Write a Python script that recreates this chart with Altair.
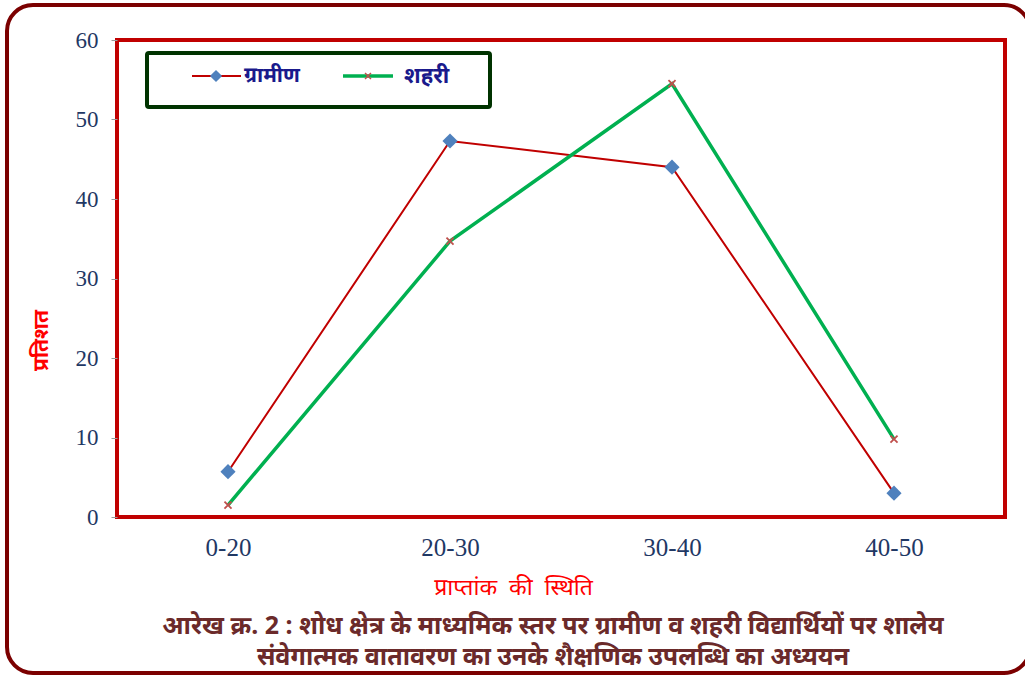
import altair as alt
import pandas as pd

categories = ["0-20", "20-30", "30-40", "40-50"]
gramin = [5.7, 47.3, 44.0, 3.0]
shahri = [1.5, 34.7, 54.5, 9.8]
series_names = ["ग्रामीण", "शहरी"]
x_title = "प्राप्तांक\u00a0\u00a0की\u00a0\u00a0स्थिति"
y_title = "प्रतिशत"
caption = [
    "आरेख क्र. 2 : शोध क्षेत्र के माध्यमिक स्तर पर ग्रामीण व शहरी विद्यार्थियों पर शालेय",
    "संवेगात्मक वातावरण का उनके शैक्षणिक उपलब्धि का अध्ययन",
]

df = pd.DataFrame({
    "cat": categories * 2,
    "value": gramin + shahri,
    "series": [series_names[0]] * 4 + [series_names[1]] * 4,
})

W, H = 888, 477
LEFT, TOP = 117, 40

xenc = alt.X("cat:N", sort=categories,
             scale=alt.Scale(type="point", domain=categories, padding=0.5),
             axis=alt.Axis(title=x_title, labelAngle=0, labelFont="Liberation Serif",
                           labelFontSize=25, labelColor="#1f3864", labelPadding=18,
                           ticks=False, domain=False,
                           titleFont="Noto Sans", titleFontSize=23, titleFontWeight="normal",
                           titleColor="#ff0000", titleX=396, titleY=70,
                           titleBaseline="middle", titleAlign="center"))
yenc = alt.Y("value:Q", scale=alt.Scale(domain=[0, 60]),
             axis=alt.Axis(title=y_title, values=[0, 10, 20, 30, 40, 50, 60],
                           labelFont="Liberation Serif", labelFontSize=23,
                           labelColor="#1f3864", labelPadding=13,
                           tickSize=6, tickColor="#999999", domain=False, grid=False,
                           titleFont="Noto Sans", titleFontSize=21, titleFontWeight="bold",
                           titleColor="#ff0000", titleAngle=270, titleX=-76, titleY=300,
                           titleBaseline="middle", titleAlign="center"))

base = alt.Chart(df)

line_g = base.transform_filter(alt.datum.series == series_names[0]).mark_line(
    color="#c00000", strokeWidth=2).encode(x=xenc, y=yenc)
line_s = base.transform_filter(alt.datum.series == series_names[1]).mark_line(
    color="#00b050", strokeWidth=3.5).encode(x=xenc, y=yenc)
pts_g = base.transform_filter(alt.datum.series == series_names[0]).mark_point(
    shape="diamond", filled=True, color="#4f81bd", size=230, opacity=1).encode(x=xenc, y=yenc)
pts_s = base.transform_filter(alt.datum.series == series_names[1]).mark_point(
    shape="M-1,-1L1,1M-1,1L1,-1", filled=False, color="#c0504d", size=50,
    strokeWidth=1.8, opacity=1).encode(x=xenc, y=yenc)

# Outer rounded frame
one = pd.DataFrame({"a": [0]})
frame = alt.Chart(one).mark_rect(
    fill=None, stroke="#7b0000", strokeWidth=4, cornerRadius=26, clip=False
).encode(x=alt.value(7 - LEFT), x2=alt.value(1030 - LEFT),
         y=alt.value(5 - TOP), y2=alt.value(673 - TOP))

# Legend (manual)
leg = pd.DataFrame({"name": series_names})
leg_box = alt.Chart(one).mark_rect(
    fill="white", stroke="#003300", strokeWidth=4, cornerRadius=2
).encode(x=alt.value(147 - LEFT), x2=alt.value(490 - LEFT),
         y=alt.value(53 - TOP), y2=alt.value(107 - TOP))
ly = 76 - TOP
leg_line_g = alt.Chart(one).mark_rule(color="#c00000", strokeWidth=2).encode(
    x=alt.value(192 - LEFT), x2=alt.value(241 - LEFT), y=alt.value(ly))
leg_pt_g = alt.Chart(one).mark_point(
    shape="diamond", filled=True, color="#4f81bd", size=150, opacity=1).encode(
    x=alt.value(216 - LEFT), y=alt.value(ly))
leg_txt_g = alt.Chart(leg.head(1)).mark_text(
    align="left", baseline="middle", font="Noto Sans", fontSize=21, fontWeight="bold",
    color="#1a1a8c").encode(x=alt.value(244 - LEFT), y=alt.value(ly), text="name:N")
leg_line_s = alt.Chart(one).mark_rule(color="#00b050", strokeWidth=3.5).encode(
    x=alt.value(343 - LEFT), x2=alt.value(393 - LEFT), y=alt.value(ly))
leg_pt_s = alt.Chart(one).mark_point(
    shape="M-1,-1L1,1M-1,1L1,-1", filled=False, color="#c0504d", size=35,
    strokeWidth=1.5, opacity=1).encode(x=alt.value(368 - LEFT), y=alt.value(ly))
leg_txt_s = alt.Chart(leg.tail(1)).mark_text(
    align="left", baseline="middle", font="Noto Sans", fontSize=22, fontWeight="bold",
    color="#1a1a8c").encode(x=alt.value(404 - LEFT), y=alt.value(ly), text="name:N")

capdf = pd.DataFrame({"line": caption, "i": [0, 1]})
cap1 = alt.Chart(capdf).transform_filter(alt.datum.i == 0).mark_text(
    align="center", baseline="middle", font="Noto Sans", fontSize=25, fontWeight="bold",
    color="#6b2a2a", clip=False
).encode(x=alt.value(553 - LEFT), y=alt.value(626 - TOP), text="line:N")
cap2 = alt.Chart(capdf).transform_filter(alt.datum.i == 1).mark_text(
    align="center", baseline="middle", font="Noto Sans", fontSize=25, fontWeight="bold",
    color="#6b2a2a", clip=False
).encode(x=alt.value(553 - LEFT), y=alt.value(657 - TOP), text="line:N")

chart = alt.layer(
    frame, line_g, line_s, pts_g, pts_s,
    leg_box, leg_line_g, leg_pt_g, leg_txt_g, leg_line_s, leg_pt_s, leg_txt_s, cap1, cap2
).properties(
    width=W, height=H,
    autosize=alt.AutoSizeParams(type="none"),
    padding={"left": LEFT, "top": TOP, "right": 1025 - LEFT - W, "bottom": 677 - TOP - H},
    background="white",
).configure_view(stroke="#c00000", strokeWidth=4)

chart.save("out.html", embed_options={"renderer": "svg", "actions": False})
